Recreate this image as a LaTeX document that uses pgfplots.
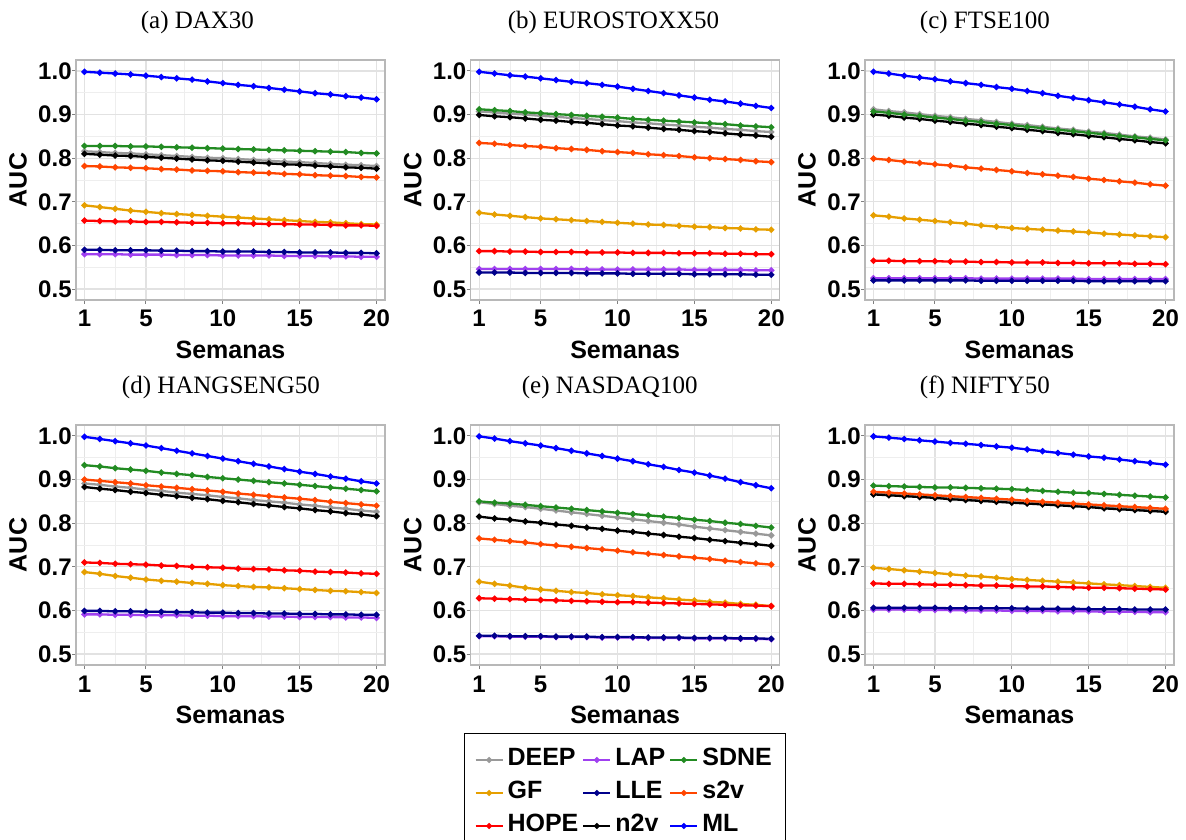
\documentclass[border=0pt]{standalone}
\usepackage{fontspec}
\setmainfont{Liberation Sans}
\newfontfamily\seriffont{Liberation Serif}
\usepackage{pgfplots}
\usepackage{pgfplotstable}
\pgfplotsset{compat=1.18}

\definecolor{cDEEP}{HTML}{999999}
\definecolor{cGF}{HTML}{E69F00}
\definecolor{cHOPE}{HTML}{FF0000}
\definecolor{cLAP}{HTML}{A040F0}
\definecolor{cLLE}{HTML}{00008B}
\definecolor{cN2V}{HTML}{000000}
\definecolor{cSDNE}{HTML}{228B22}
\definecolor{cS2V}{HTML}{FF4500}
\definecolor{cML}{HTML}{0000FF}
\definecolor{gridmaj}{HTML}{E2E2E2}
\definecolor{gridmin}{HTML}{EEEEEE}
\definecolor{frame}{HTML}{B8B8B8}

\newcommand\bfont{\fontsize{12}{14}\selectfont\bfseries}
\newcommand\lfont{\fontsize{12.5}{14}\selectfont\bfseries}
\newcommand\tfont{\seriffont\fontsize{12.5}{15}\selectfont}

% AUC per week (columns 1..20), one row per method
\pgfplotstableread{
name 1 2 3 4 5 6 7 8 9 10 11 12 13 14 15 16 17 18 19 20
DEEP 0.816 0.814 0.812 0.811 0.809 0.807 0.805 0.803 0.801 0.800 0.798 0.796 0.794 0.792 0.791 0.789 0.787 0.785 0.784 0.782
GF 0.692 0.688 0.684 0.680 0.677 0.674 0.672 0.670 0.668 0.666 0.664 0.662 0.660 0.658 0.656 0.654 0.653 0.651 0.649 0.648
HOPE 0.657 0.656 0.655 0.655 0.654 0.654 0.653 0.652 0.652 0.651 0.651 0.650 0.649 0.649 0.648 0.648 0.647 0.646 0.646 0.645
LAP 0.580 0.580 0.580 0.579 0.579 0.579 0.578 0.578 0.578 0.577 0.577 0.577 0.577 0.576 0.576 0.576 0.575 0.575 0.574 0.574
LLE 0.590 0.590 0.589 0.589 0.589 0.588 0.588 0.587 0.587 0.586 0.586 0.586 0.585 0.585 0.584 0.584 0.584 0.583 0.583 0.582
n2v 0.810 0.808 0.806 0.805 0.803 0.801 0.799 0.797 0.795 0.794 0.792 0.790 0.788 0.786 0.785 0.783 0.781 0.779 0.778 0.776
SDNE 0.828 0.828 0.828 0.827 0.827 0.826 0.825 0.824 0.823 0.822 0.821 0.820 0.819 0.818 0.817 0.816 0.815 0.814 0.812 0.811
s2v 0.782 0.781 0.779 0.778 0.777 0.775 0.774 0.772 0.771 0.770 0.768 0.767 0.766 0.764 0.763 0.761 0.760 0.759 0.757 0.756
ML 0.998 0.996 0.994 0.992 0.989 0.986 0.983 0.980 0.976 0.972 0.968 0.965 0.961 0.957 0.953 0.949 0.946 0.942 0.939 0.935
}\rawA
\pgfplotstableread{
name 1 2 3 4 5 6 7 8 9 10 11 12 13 14 15 16 17 18 19 20
DEEP 0.907 0.905 0.902 0.900 0.897 0.895 0.892 0.890 0.887 0.885 0.882 0.880 0.877 0.875 0.872 0.870 0.867 0.865 0.862 0.860
GF 0.675 0.671 0.668 0.665 0.662 0.660 0.658 0.656 0.654 0.652 0.650 0.648 0.647 0.645 0.643 0.642 0.640 0.639 0.637 0.636
HOPE 0.587 0.587 0.586 0.586 0.585 0.585 0.585 0.584 0.584 0.584 0.583 0.583 0.583 0.582 0.582 0.582 0.581 0.581 0.580 0.580
LAP 0.546 0.546 0.546 0.546 0.546 0.546 0.546 0.545 0.545 0.545 0.545 0.545 0.545 0.545 0.544 0.544 0.544 0.544 0.543 0.543
LLE 0.538 0.538 0.538 0.537 0.537 0.537 0.537 0.536 0.536 0.536 0.535 0.535 0.535 0.535 0.534 0.534 0.534 0.534 0.533 0.533
n2v 0.899 0.896 0.894 0.891 0.888 0.886 0.883 0.881 0.878 0.875 0.873 0.870 0.867 0.865 0.862 0.860 0.857 0.854 0.852 0.849
SDNE 0.912 0.910 0.908 0.905 0.903 0.901 0.899 0.897 0.895 0.893 0.890 0.888 0.886 0.884 0.882 0.880 0.878 0.875 0.873 0.871
s2v 0.835 0.833 0.830 0.828 0.826 0.823 0.821 0.819 0.816 0.814 0.812 0.809 0.807 0.805 0.802 0.800 0.798 0.796 0.793 0.791
ML 0.998 0.994 0.990 0.987 0.983 0.979 0.975 0.972 0.968 0.964 0.959 0.954 0.949 0.944 0.939 0.934 0.930 0.925 0.920 0.915
}\rawB
\pgfplotstableread{
name 1 2 3 4 5 6 7 8 9 10 11 12 13 14 15 16 17 18 19 20
DEEP 0.912 0.908 0.905 0.901 0.897 0.894 0.890 0.887 0.883 0.879 0.876 0.872 0.868 0.865 0.861 0.858 0.854 0.850 0.847 0.843
GF 0.669 0.666 0.662 0.659 0.656 0.653 0.650 0.646 0.643 0.640 0.638 0.636 0.634 0.632 0.630 0.627 0.625 0.623 0.621 0.619
HOPE 0.565 0.565 0.564 0.564 0.564 0.563 0.563 0.562 0.562 0.561 0.561 0.561 0.560 0.560 0.559 0.559 0.559 0.558 0.558 0.557
LAP 0.525 0.525 0.525 0.525 0.525 0.525 0.525 0.524 0.524 0.524 0.524 0.524 0.524 0.524 0.523 0.523 0.523 0.523 0.523 0.523
LLE 0.520 0.520 0.520 0.520 0.520 0.520 0.520 0.519 0.519 0.519 0.519 0.519 0.519 0.519 0.518 0.518 0.518 0.518 0.518 0.518
n2v 0.900 0.897 0.893 0.890 0.886 0.883 0.879 0.876 0.872 0.869 0.865 0.862 0.858 0.855 0.851 0.848 0.844 0.841 0.837 0.834
SDNE 0.907 0.904 0.900 0.897 0.893 0.890 0.886 0.883 0.879 0.876 0.872 0.869 0.865 0.862 0.858 0.855 0.851 0.848 0.844 0.841
s2v 0.799 0.796 0.792 0.789 0.786 0.783 0.779 0.776 0.773 0.770 0.766 0.763 0.760 0.757 0.753 0.750 0.747 0.744 0.740 0.737
ML 0.998 0.994 0.989 0.985 0.981 0.976 0.972 0.968 0.963 0.959 0.954 0.949 0.943 0.938 0.933 0.928 0.923 0.918 0.912 0.907
}\rawC
\pgfplotstableread{
name 1 2 3 4 5 6 7 8 9 10 11 12 13 14 15 16 17 18 19 20
DEEP 0.891 0.888 0.884 0.881 0.877 0.874 0.870 0.867 0.864 0.860 0.857 0.853 0.850 0.847 0.843 0.840 0.836 0.833 0.829 0.826
GF 0.688 0.684 0.679 0.675 0.671 0.668 0.666 0.663 0.661 0.658 0.656 0.654 0.653 0.651 0.649 0.647 0.645 0.644 0.642 0.640
HOPE 0.710 0.709 0.707 0.706 0.705 0.703 0.702 0.700 0.699 0.698 0.696 0.695 0.694 0.692 0.691 0.689 0.688 0.687 0.685 0.684
LAP 0.591 0.591 0.590 0.590 0.589 0.589 0.589 0.588 0.588 0.587 0.587 0.587 0.586 0.586 0.585 0.585 0.585 0.584 0.584 0.583
LLE 0.599 0.599 0.598 0.598 0.597 0.597 0.596 0.596 0.595 0.595 0.594 0.594 0.593 0.593 0.592 0.592 0.591 0.591 0.590 0.590
n2v 0.883 0.879 0.876 0.872 0.869 0.865 0.862 0.858 0.855 0.851 0.848 0.844 0.841 0.837 0.834 0.830 0.827 0.823 0.820 0.816
SDNE 0.933 0.930 0.926 0.923 0.920 0.916 0.913 0.910 0.906 0.903 0.900 0.897 0.894 0.891 0.888 0.885 0.882 0.879 0.876 0.873
s2v 0.900 0.897 0.894 0.891 0.887 0.884 0.881 0.878 0.875 0.872 0.868 0.865 0.862 0.859 0.856 0.853 0.849 0.846 0.843 0.840
ML 0.998 0.993 0.988 0.983 0.978 0.972 0.966 0.960 0.954 0.948 0.942 0.936 0.930 0.924 0.918 0.913 0.907 0.902 0.896 0.891
}\rawD
\pgfplotstableread{
name 1 2 3 4 5 6 7 8 9 10 11 12 13 14 15 16 17 18 19 20
DEEP 0.848 0.844 0.840 0.837 0.833 0.829 0.825 0.821 0.817 0.813 0.809 0.805 0.801 0.797 0.792 0.788 0.784 0.780 0.776 0.772
GF 0.666 0.661 0.657 0.652 0.648 0.645 0.642 0.640 0.637 0.635 0.633 0.630 0.628 0.625 0.623 0.620 0.618 0.615 0.613 0.610
HOPE 0.628 0.627 0.626 0.625 0.624 0.623 0.622 0.621 0.620 0.619 0.619 0.618 0.617 0.616 0.615 0.614 0.613 0.612 0.611 0.610
LAP 0.541 0.541 0.540 0.540 0.540 0.539 0.539 0.539 0.538 0.538 0.538 0.537 0.537 0.537 0.536 0.536 0.536 0.535 0.535 0.534
LLE 0.542 0.542 0.541 0.541 0.541 0.540 0.540 0.540 0.539 0.539 0.539 0.538 0.538 0.538 0.537 0.537 0.537 0.536 0.536 0.535
n2v 0.815 0.811 0.808 0.804 0.801 0.797 0.794 0.790 0.787 0.783 0.780 0.776 0.773 0.769 0.766 0.762 0.759 0.755 0.752 0.748
SDNE 0.850 0.847 0.845 0.842 0.839 0.836 0.833 0.830 0.827 0.824 0.821 0.818 0.815 0.812 0.808 0.805 0.801 0.798 0.794 0.790
s2v 0.765 0.762 0.759 0.756 0.752 0.749 0.746 0.743 0.740 0.737 0.733 0.730 0.727 0.724 0.721 0.718 0.714 0.711 0.708 0.705
ML 0.999 0.994 0.988 0.983 0.978 0.972 0.966 0.960 0.954 0.948 0.942 0.935 0.929 0.922 0.916 0.909 0.902 0.894 0.887 0.880
}\rawE
\pgfplotstableread{
name 1 2 3 4 5 6 7 8 9 10 11 12 13 14 15 16 17 18 19 20
DEEP 0.869 0.867 0.865 0.863 0.861 0.858 0.856 0.854 0.852 0.850 0.848 0.846 0.844 0.842 0.840 0.837 0.835 0.833 0.831 0.829
GF 0.698 0.695 0.692 0.689 0.686 0.683 0.680 0.678 0.675 0.672 0.670 0.668 0.666 0.664 0.662 0.660 0.658 0.656 0.654 0.652
HOPE 0.662 0.661 0.661 0.660 0.659 0.659 0.658 0.657 0.657 0.656 0.655 0.655 0.654 0.653 0.652 0.652 0.651 0.650 0.649 0.648
LAP 0.602 0.602 0.602 0.601 0.601 0.601 0.600 0.600 0.600 0.599 0.599 0.599 0.598 0.598 0.598 0.597 0.597 0.597 0.596 0.596
LLE 0.606 0.606 0.606 0.606 0.606 0.605 0.605 0.605 0.605 0.605 0.604 0.604 0.604 0.604 0.603 0.603 0.603 0.602 0.602 0.602
n2v 0.866 0.864 0.862 0.860 0.858 0.855 0.853 0.851 0.849 0.847 0.845 0.843 0.841 0.839 0.837 0.834 0.832 0.830 0.828 0.826
SDNE 0.886 0.885 0.884 0.883 0.882 0.882 0.881 0.880 0.879 0.878 0.876 0.874 0.872 0.870 0.869 0.867 0.865 0.863 0.861 0.859
s2v 0.872 0.870 0.868 0.866 0.864 0.862 0.860 0.858 0.856 0.854 0.851 0.849 0.847 0.845 0.843 0.841 0.839 0.837 0.835 0.833
ML 0.999 0.996 0.993 0.990 0.987 0.984 0.982 0.979 0.976 0.973 0.969 0.965 0.961 0.957 0.953 0.950 0.946 0.942 0.938 0.934
}\rawF

% one column per method, one row per week
\pgfplotstabletranspose[colnames from=name, input colnames to=x]{\tA}{\rawA}
\pgfplotstabletranspose[colnames from=name, input colnames to=x]{\tB}{\rawB}
\pgfplotstabletranspose[colnames from=name, input colnames to=x]{\tC}{\rawC}
\pgfplotstabletranspose[colnames from=name, input colnames to=x]{\tD}{\rawD}
\pgfplotstabletranspose[colnames from=name, input colnames to=x]{\tE}{\rawE}
\pgfplotstabletranspose[colnames from=name, input colnames to=x]{\tF}{\rawF}

\pgfplotsset{
  series/.style={color=#1, line width=1.15pt, mark=*, mark size=0.9pt, mark options={solid}},
  sDEEP/.style={series=cDEEP}, sGF/.style={series=cGF}, sHOPE/.style={series=cHOPE},
  sLAP/.style={series=cLAP}, sLLE/.style={series=cLLE}, sN2V/.style={series=cN2V},
  sSDNE/.style={series=cSDNE}, sS2V/.style={series=cS2V}, sML/.style={series=cML},
  panel/.style={
    scale only axis, width=154.5pt, height=120pt,
    xmin=0.45, xmax=20.55, ymin=0.475, ymax=1.025,
    xtick={1,5,10,15,20}, ytick={0.5,0.6,0.7,0.8,0.9,1.0},
    minor xtick={3,7.5,12.5,17.5}, minor ytick={0.55,0.65,0.75,0.85,0.95},
    grid=both,
    major grid style={color=gridmaj, line width=0.6pt},
    minor grid style={color=gridmin, line width=0.35pt},
    axis line style={color=frame, line width=0.6pt},
    tick pos=left, tick align=outside,
    major tick length=2pt, minor tick length=0pt,
    tick style={color=gray, line width=0.5pt},
    /pgf/number format/assume math mode=true,
    ticklabel style={font=\bfont},
    yticklabel style={inner xsep=0pt, /pgf/number format/.cd, fixed, fixed zerofill, precision=1},
    xticklabel style={anchor=base, yshift=-11.5pt},
    xlabel={Semanas}, ylabel={AUC},
    every axis x label/.style={at={(0.5,-0.2417)}, anchor=base, font=\lfont},
    every axis y label/.style={at={(-0.1877,0.5)}, rotate=90, anchor=center, font=\lfont},
    every axis title/.style={font=\tfont, anchor=base},
  },
}

\newcommand\allseries[1]{%
  \addplot[sDEEP, forget plot] table[x=x, y=DEEP] {#1};
  \addplot[sGF,   forget plot] table[x=x, y=GF]   {#1};
  \addplot[sHOPE, forget plot] table[x=x, y=HOPE] {#1};
  \addplot[sLAP,  forget plot] table[x=x, y=LAP]  {#1};
  \addplot[sLLE,  forget plot] table[x=x, y=LLE]  {#1};
  \addplot[sN2V,  forget plot] table[x=x, y=n2v]  {#1};
  \addplot[sSDNE, forget plot] table[x=x, y=SDNE] {#1};
  \addplot[sS2V,  forget plot] table[x=x, y=s2v]  {#1};
  \addplot[sML,   forget plot] table[x=x, y=ML]   {#1};
}

\begin{document}
\begin{tikzpicture}
\useasboundingbox (-38pt,-269.5pt) rectangle (555pt,150pt);

\begin{axis}[panel, at={(0pt,0pt)}, anchor=south west,
  title={(a) DAX30}, title style={at={(0.393,1.1333)}}]
  \allseries{\tA}
\end{axis}

\begin{axis}[panel, at={(197.35pt,0pt)}, anchor=south west,
  title={(b) EUROSTOXX50}, title style={at={(0.462,1.1333)}}]
  \allseries{\tB}
\end{axis}

\begin{axis}[panel, at={(394.5pt,0pt)}, anchor=south west,
  title={(c) FTSE100}, title style={at={(0.388,1.1333)}}]
  \allseries{\tC}
\end{axis}

\begin{axis}[panel, at={(0pt,-182.5pt)}, anchor=south west,
  title={(d) HANGSENG50}, title style={at={(0.469,1.1333)}}]
  \allseries{\tD}
\end{axis}

\begin{axis}[panel, at={(197.35pt,-182.5pt)}, anchor=south west,
  title={(e) NASDAQ100}, title style={at={(0.450,1.1333)}},
  legend columns=3,
  legend style={at={(0.5,-0.2833)}, anchor=north, draw=black, line width=0.5pt,
    font=\lfont, inner xsep=5pt, inner ysep=5pt,
    nodes={inner sep=2pt, text height=9pt, text depth=3.5pt}},
  legend cell align=left,
  legend image code/.code={\draw[mark repeat=2, mark phase=2, #1]
    plot coordinates {(0pt,0pt) (6.75pt,0pt) (13.5pt,0pt)};}]
  \allseries{\tE}
  \addlegendimage{sDEEP, line width=1pt, mark size=0.9pt}\addlegendentry{DEEP}
  \addlegendimage{sLAP,  line width=1pt, mark size=0.9pt}\addlegendentry{LAP}
  \addlegendimage{sSDNE, line width=1pt, mark size=0.9pt}\addlegendentry{SDNE}
  \addlegendimage{sGF,   line width=1pt, mark size=0.9pt}\addlegendentry{GF}
  \addlegendimage{sLLE,  line width=1pt, mark size=0.9pt}\addlegendentry{LLE}
  \addlegendimage{sS2V,  line width=1pt, mark size=0.9pt}\addlegendentry{s2v}
  \addlegendimage{sHOPE, line width=1pt, mark size=0.9pt}\addlegendentry{HOPE}
  \addlegendimage{sN2V,  line width=1pt, mark size=0.9pt}\addlegendentry{n2v}
  \addlegendimage{sML,   line width=1pt, mark size=0.9pt}\addlegendentry{ML}
\end{axis}

\begin{axis}[panel, at={(394.5pt,-182.5pt)}, anchor=south west,
  title={(f) NIFTY50}, title style={at={(0.388,1.1333)}}]
  \allseries{\tF}
\end{axis}
\end{tikzpicture}
\end{document}
